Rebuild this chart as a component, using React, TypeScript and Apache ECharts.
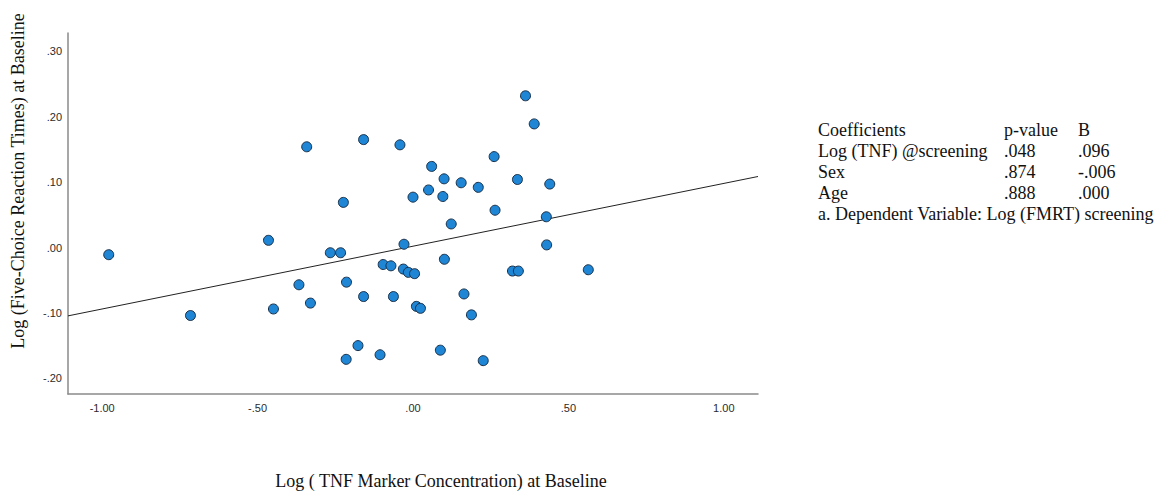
import React, { useEffect, useRef } from "react";
import * as echarts from "echarts";

// Log TNF marker concentration (x) vs log five-choice reaction time (y), one pair per subject
const tnfLog: number[] = [
  -0.979, -0.716, -0.465, -0.449, -0.367, -0.33, -0.342, -0.266, -0.233, -0.224,
  -0.214, -0.215, -0.177, -0.159, -0.159, -0.106, -0.096, -0.071, -0.063, -0.042,
  -0.031, -0.029, -0.015, 0.005, 0.011, 0.024, 0.0, 0.05, 0.06, 0.088,
  0.096, 0.1, 0.101, 0.123, 0.155, 0.164, 0.188, 0.21, 0.226, 0.261,
  0.264, 0.32, 0.336, 0.339, 0.362, 0.39, 0.429, 0.43, 0.44, 0.564,
];
const fmrtLog: number[] = [
  -0.011, -0.104, 0.011, -0.094, -0.057, -0.085, 0.154, -0.008, -0.008, 0.069,
  -0.053, -0.171, -0.15, 0.165, -0.075, -0.164, -0.026, -0.028, -0.075, 0.157,
  -0.033, 0.005, -0.038, -0.04, -0.09, -0.093, 0.077, 0.088, 0.124, -0.157,
  0.078, 0.105, -0.018, 0.036, 0.099, -0.071, -0.103, 0.092, -0.173, 0.139,
  0.057, -0.036, 0.104, -0.036, 0.232, 0.189, 0.047, 0.004, 0.097, -0.034,
];

// Fitted line
const fitIntercept = 0.002;
const fitSlope = 0.096;

// Axis ranges and labelled ticks
const xRange: [number, number] = [-1.11, 1.11];
const yRange: [number, number] = [-0.224, 0.328];
const xTicks: number[] = [-1, -0.5, 0, 0.5, 1];
const yTicks: number[] = [-0.2, -0.1, 0, 0.1, 0.2, 0.3];

// Coefficients table
const tableHeader: string[] = ["Coefficients", "p-value", "B"];
const coefNames: string[] = ["Log (TNF) @screening", "Sex", "Age"];
const pValues: string[] = [".048", ".874", ".888"];
const bValues: string[] = [".096", "-.006", ".000"];
const tableNote = "a. Dependent Variable: Log (FMRT) screening";

const xTitle = "Log ( TNF Marker Concentration) at Baseline";
const yTitle = "Log (Five-Choice Reaction Times) at Baseline";

const fmt = (v: number) => v.toFixed(2).replace(/^(-?)0\./, "$1.");

const SERIF = "'Liberation Serif', 'Times New Roman', serif";
const SANS = "'Liberation Sans', Arial, sans-serif";

export default function App() {
  const ref = useRef<HTMLDivElement>(null);

  useEffect(() => {
    if (!ref.current) return;
    const chart = echarts.init(ref.current, undefined, { renderer: "svg" });

    const points = tnfLog.map((x, i) => [x, fmrtLog[i]]);
    const fitLine = xRange.map((x) => [x, fitIntercept + fitSlope * x]);

    const colX = [818, 1004, 1078];
    const rowY = [130, 151, 172, 193, 214];
    const tableRows = [tableHeader, ...coefNames.map((n, i) => [n, pValues[i], bValues[i]])];
    const textStyle = (text: string, x: number, y: number) => ({
      type: "text",
      x,
      y,
      style: {
        text,
        fill: "#111",
        font: `18px ${SERIF}`,
        textAlign: "left",
        textVerticalAlign: "middle",
      },
    });
    const tableGraphics: any[] = [];
    tableRows.forEach((row, r) =>
      row.forEach((cell, c) => tableGraphics.push(textStyle(cell, colX[c], rowY[r])))
    );
    tableGraphics.push(textStyle(tableNote, colX[0], rowY[4]));

    chart.setOption({
      animation: false,
      backgroundColor: "#fff",
      grid: { left: 68, right: 403, top: 33, bottom: 97, containLabel: false },
      xAxis: {
        type: "value",
        min: xRange[0],
        max: xRange[1],
        axisLine: { show: true, onZero: false, lineStyle: { color: "#8a8a8a", width: 1.5 } },
        axisTick: { show: false },
        splitLine: { show: false },
        axisLabel: {
          customValues: xTicks,
          formatter: (v: number) => fmt(v),
          color: "#2b2b2b",
          fontFamily: SANS,
          fontSize: 11,
          margin: 8,
        },
      },
      yAxis: {
        type: "value",
        min: yRange[0],
        max: yRange[1],
        axisLine: { show: true, onZero: false, lineStyle: { color: "#8a8a8a", width: 1.5 } },
        axisTick: { show: false },
        splitLine: { show: false },
        axisLabel: {
          customValues: yTicks,
          formatter: (v: number) => fmt(v),
          color: "#2b2b2b",
          fontFamily: SANS,
          fontSize: 11,
          margin: 6,
        },
      },
      series: [
        {
          type: "line",
          data: fitLine,
          showSymbol: false,
          symbol: "none",
          lineStyle: { color: "#222", width: 1 },
          silent: true,
          z: 1,
        },
        {
          type: "scatter",
          data: points,
          symbolSize: 10,
          itemStyle: { color: "#1f86d6", borderColor: "#17304a", borderWidth: 1, opacity: 1 },
          z: 2,
        },
      ],
      graphic: [
        {
          type: "text",
          x: 441,
          y: 481,
          style: {
            text: xTitle,
            fill: "#111",
            font: `18px ${SERIF}`,
            textAlign: "center",
            textVerticalAlign: "middle",
          },
        },
        {
          type: "text",
          x: 18,
          y: 181,
          rotation: Math.PI / 2,
          style: {
            text: yTitle,
            fill: "#111",
            font: `18px ${SERIF}`,
            textAlign: "center",
            textVerticalAlign: "middle",
          },
        },
        ...tableGraphics,
      ],
    });

    return () => chart.dispose();
  }, []);

  return (
    <div
      ref={ref}
      style={{ position: "absolute", left: 0, top: 0, width: 1161, height: 491 }}
    />
  );
}
